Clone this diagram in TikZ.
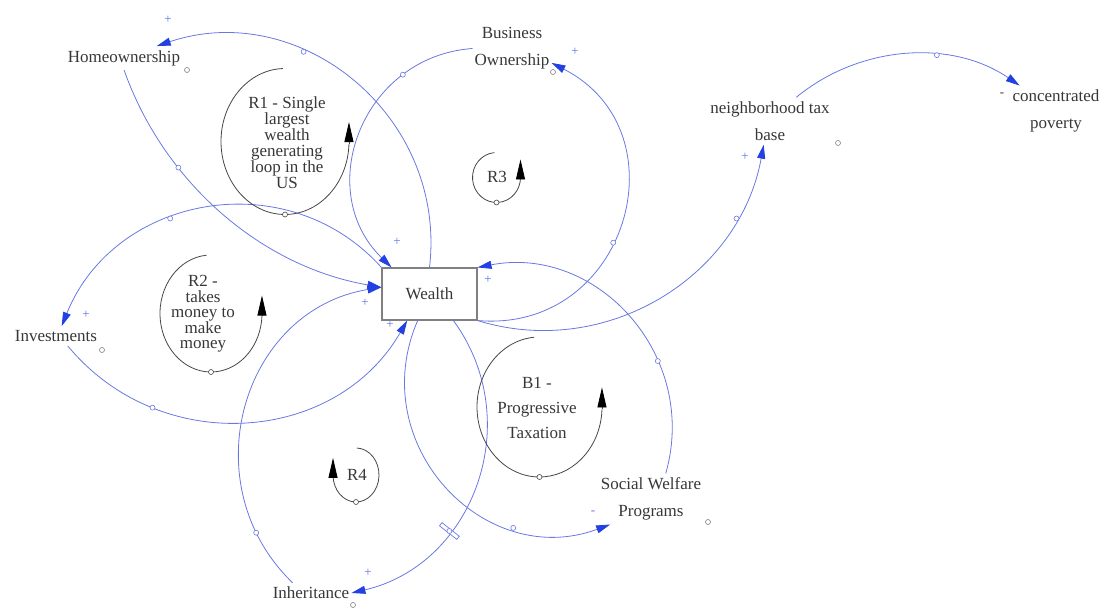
\documentclass[tikz,border=0pt]{standalone}
\usepackage{fontspec}
\setmainfont{Liberation Serif}
\usetikzlibrary{arrows.meta}
\definecolor{connblue}{RGB}{105,120,225}
\definecolor{tipblue}{RGB}{35,65,225}
\definecolor{txtgray}{RGB}{55,55,55}
\definecolor{signblue}{RGB}{95,115,230}
\definecolor{loopgray}{RGB}{70,70,70}
\begin{document}
\begin{tikzpicture}[x=1pt,y=1pt,
  varname/.style={font=\fontsize{17}{27}\selectfont, text=txtgray, align=center, inner xsep=2pt, inner ysep=4pt},
  stock/.style={draw=gray, line width=1.1pt, fill=white, minimum width=95pt, minimum height=52pt, inner sep=0pt, font=\fontsize{17}{20}\selectfont, text=txtgray},
  cld/.style={draw=connblue, line width=0.8pt, -{Triangle[length=14pt,width=8pt,color=tipblue]}},
  handle/.style={circle, draw=connblue, fill=white, line width=0.6pt, minimum size=5pt, inner sep=0pt},
  delaymark/.style={rectangle, draw=connblue, fill=white, line width=0.7pt, minimum width=4pt, minimum height=22pt, inner sep=0pt},
  varmark/.style={circle, draw=gray, fill=white, line width=0.6pt, minimum size=5pt, inner sep=0pt},
  loopline/.style={draw=loopgray, line width=0.8pt},
  looptip/.style={draw=loopgray, line width=0.8pt, -{Triangle[length=20pt,width=9pt,color=black]}},
  loopmark/.style={circle, draw=loopgray, fill=white, line width=0.6pt, minimum size=5pt, inner sep=0pt},
  looptext/.style={text=txtgray, align=center, inner sep=0pt},
  polsign/.style={text=signblue, font=\fontsize{13}{13}\selectfont, inner sep=0pt}
]
\useasboundingbox (0,0) rectangle (1103,609);

% variables
\node[stock] (wealth) at (429.5,315) {Wealth};
\node[varname] (home) at (124,551) {Homeownership};
\node[varname] (busi) at (512,560.5) {Business\\Ownership};
\node[varname] (ntb) at (770,488) {neighborhood tax\\base};
\node[varname] (cpov) at (1056,498) {concentrated\\poverty};
\node[varname] (invest) at (56,273) {Investments};
\node[varname] (swp) at (651,110) {Social Welfare\\Programs};
\node[varname] (inh) at (311,16) {Inheritance};

% small variable markers
\node[varmark] (homem) at (187,539) {};
\node[varmark] (busim) at (553,537) {};
\node[varmark] (ntbm) at (838,466) {};
\node[varmark] (investm) at (102,259) {};
\node[varmark] (swpm) at (708,87) {};
\node[varmark] (inhm) at (353,4) {};

% connectors
\draw[cld] (wealth.north) .. controls +(17.7,151) and +(144.1,48.2) .. (home.20) node[pos=0.645, handle] {};
\draw[cld] (home.south) .. controls +(40.3,-113.8) and +(-119,20.4) .. (wealth.172) node[pos=0.316, handle] {};
\draw[cld] (wealth.south east) .. controls +(149.6,-12.9) and +(133.8,-68.4) .. (busi.-20) node[pos=0.439, handle] {};
\draw[cld] (busi.west) .. controls +(-110.4,-8) and +(-79.3,77.2) .. (wealth.145) node[pos=0.247, handle] {};
\draw[cld] (wealth.north west) .. controls +(-94.5,105) and +(52.8,131.1) .. (invest.60) node[pos=0.599, handle] {};
\draw[cld] (invest.-40) .. controls +(91.5,-111.2) and +(-72.1,-124.7) .. (wealth.230) node[pos=0.259, handle] {};
\draw[cld] (wealth.south east) .. controls +(128.3,-39.7) and +(-23.9,-132.2) .. (ntb.-105) node[pos=0.797, handle] {};
\draw[cld] (ntb.42) .. controls +(63.6,52.4) and +(-68,46.5) .. (cpov.145) node[pos=0.629, handle] {};
\draw[cld] (swp.60) .. controls +(33.6,117.5) and +(120,23) .. (wealth.north east) node[pos=0.339, handle] {};
\draw[cld] (wealth.246) .. controls +(-53.6,-123.4) and +(-126.2,-46.5) .. (swp.212) node[pos=0.732, handle] {};
\draw[cld] (wealth.312) .. controls +(73.7,-101.1) and +(121.9,28.3) .. (inh.east) node[pos=0.662, sloped, delaymark] {} node[pos=0.662, handle] {};
\draw[cld] (inh.151) .. controls +(-101.9,98.6) and +(-139.9,-23) .. (wealth.172) node[pos=0.154, handle] {};

% polarity signs
\node[polsign] (s1) at (168,589) {+};
\node[polsign] (s2) at (575,557) {+};
\node[polsign] (s3) at (745,452) {+};
\node[polsign, text=txtgray] (s4) at (1002,514) {-};
\node[polsign] (s5) at (86,294) {+};
\node[polsign] (s6) at (397,367) {+};
\node[polsign] (s7) at (365,306) {+};
\node[polsign] (s8) at (390,284) {+};
\node[polsign] (s9) at (488,329) {+};
\node[polsign] (s10) at (368,36) {+};
\node[polsign] (s11) at (593,96) {-};

% loop markers
\coordinate (r1c) at (285,467.5);
\draw[loopline] (r1c) ++(92:64 and 73) arc[start angle=92, end angle=358, x radius=64, y radius=73] coordinate (r1e);
\draw[looptip] (r1e) -- ++(0,22);
\node[loopmark] (r1m) at (285,394.5) {};
\node[looptext, font=\fontsize{17}{16}\selectfont] (r1t) at (287,466) {R1 - Single\\largest\\wealth\\generating\\loop in the\\US};

\coordinate (r2c) at (211,295.5);
\draw[loopline] (r2c) ++(95:51 and 58.5) arc[start angle=95, end angle=358, x radius=51, y radius=58.5] coordinate (r2e);
\draw[looptip] (r2e) -- ++(0,20);
\node[loopmark] (r2m) at (211,237) {};
\node[looptext, font=\fontsize{17}{15.5}\selectfont] (r2t) at (203,295) {R2 -\\takes\\money to\\make\\money};

\coordinate (r3c) at (496.5,431.5);
\draw[loopline] (r3c) ++(95:24 and 25) arc[start angle=95, end angle=360, x radius=24, y radius=25] coordinate (r3e);
\draw[looptip] (r3e) -- ++(0,18);
\node[loopmark] (r3m) at (496.5,406.5) {};
\node[looptext, font=\fontsize{17}{20}\selectfont] (r3t) at (497,432) {R3};

\coordinate (b1c) at (539.5,202);
\draw[loopline] (b1c) ++(95:62.5 and 70) arc[start angle=95, end angle=358, x radius=62.5, y radius=70] coordinate (b1e);
\draw[looptip] (b1e) -- ++(0,22);
\node[loopmark] (b1m) at (539.5,132) {};
\node[looptext, font=\fontsize{17}{25}\selectfont] (b1t) at (537,201) {B1 -\\Progressive\\Taxation};

\coordinate (r4c) at (356,134);
\draw[loopline] (r4c) ++(88:23 and 27) arc[start angle=88, end angle=-178, x radius=23, y radius=27] coordinate (r4e);
\draw[looptip] (r4e) -- ++(0,18);
\node[loopmark] (r4m) at (356,107) {};
\node[looptext, font=\fontsize{17}{20}\selectfont] (r4t) at (357,134) {R4};
\end{tikzpicture}
\end{document}
